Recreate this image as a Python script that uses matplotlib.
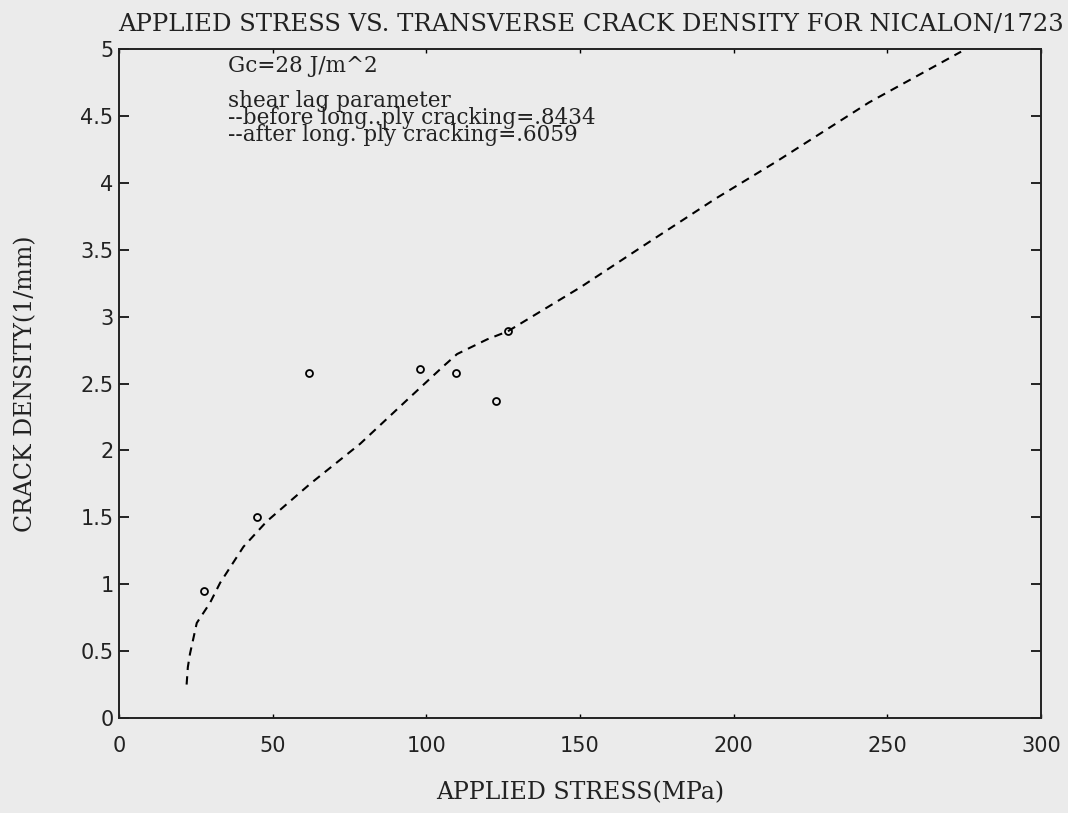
import matplotlib
matplotlib.use('Agg')
import matplotlib.pyplot as plt
import numpy as np

# measured crack density (open circles)
stress_meas = [27.8, 45.0, 61.9, 98.1, 109.5, 122.8, 126.5]
density_meas = [0.95, 1.50, 2.58, 2.61, 2.58, 2.37, 2.89]

# model prediction (dashed curve)
stress_model = [22.0, 22.4, 23.1, 25.3, 29.6, 32.9, 40.5, 48.1, 62.2, 78.5,
                94.8, 105.6, 110.0, 119.8, 126.5, 150.2, 172.0, 194.0, 214.0,
                244.0, 274.0]
density_model = [0.25, 0.38, 0.48, 0.71, 0.86, 1.01, 1.28, 1.47, 1.75, 2.05,
                 2.40, 2.63, 2.72, 2.83, 2.89, 3.22, 3.55, 3.88, 4.16,
                 4.60, 4.98]

x_ticks = [0, 50, 100, 150, 200, 250, 300]
y_ticks = [0, 0.5, 1, 1.5, 2, 2.5, 3, 3.5, 4, 4.5, 5]
y_ticklabels = ['0', '0.5', '1', '1.5', '2', '2.5', '3', '3.5', '4', '4.5', '5']

note_gc = 'Gc=28 J/m^2'
note_lag = ['shear lag parameter',
            '--before long..ply cracking=.8434',
            '--after long. ply cracking=.6059']

BG = '#ebebeb'
INK = '#222222'
SERIF = 'DejaVu Serif'

fig = plt.figure(figsize=(10.68, 8.13), dpi=100, facecolor=BG)
# axes box in pixels: left 119, right 1041, top 49, bottom 718
ax = fig.add_axes([119/1068, 1 - 718/813, 922/1068, 669/813])
ax.set_facecolor(BG)

ax.plot(stress_model, density_model, color='black', lw=1.5,
        dashes=(4, 3))
ax.plot(stress_meas, density_meas, 'o', mfc='none', mec='black',
        ms=5, mew=1.3, ls='none')

ax.set_xlim(0, 300)
ax.set_ylim(0, 5)
ax.set_xticks(x_ticks)
ax.set_xticklabels([str(t) for t in x_ticks])
ax.set_yticks(y_ticks)
ax.set_yticklabels(y_ticklabels)

ax.tick_params(axis='y', direction='in', length=7, width=1.2,
               left=True, right=True, labelsize=15, pad=4)
ax.tick_params(axis='x', direction='in', length=3, width=1.0,
               bottom=True, top=True, labelsize=15, pad=13)
for lab in ax.get_xticklabels() + ax.get_yticklabels():
    lab.set_family('DejaVu Sans')
    lab.set_color(INK)

for s in ax.spines.values():
    s.set_linewidth(1.4)
    s.set_color(INK)

ax.set_xlabel('APPLIED STRESS(MPa)', family=SERIF, fontsize=17,
              labelpad=18, color=INK)
ax.set_ylabel('CRACK DENSITY(1/mm)', family=SERIF, fontsize=17, color=INK)
ax.yaxis.set_label_coords(-0.089, 0.5)
ax.set_title('APPLIED STRESS VS. TRANSVERSE CRACK DENSITY FOR NICALON/1723',
             family=SERIF, fontsize=17.5, pad=13, color=INK, x=0.512)

# annotation block
ax.text(35.5, 4.83, note_gc, family=SERIF, fontsize=15.5, color=INK,
        va='baseline', ha='left')
ax.text(35.5, 4.31, '\n'.join(note_lag), family=SERIF, fontsize=15.5,
        color=INK, va='baseline', ha='left', linespacing=0.72)

fig.savefig('out.png', dpi=100, facecolor=BG)
